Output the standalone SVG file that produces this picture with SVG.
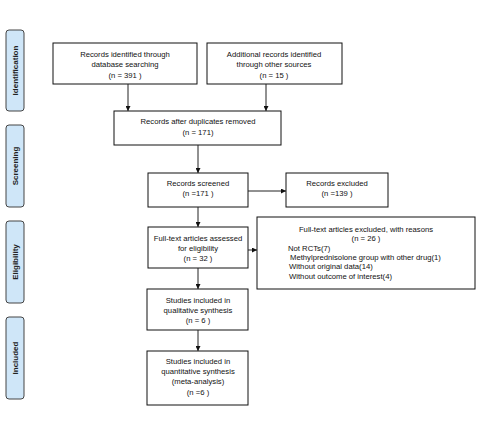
<svg xmlns="http://www.w3.org/2000/svg" width="498" height="428" viewBox="0 0 498 428">
<style>
.box{fill:#fff;stroke:#111;stroke-width:1}
.tab{fill:#cfe6f8;stroke:#444;stroke-width:1}
.t{font-family:"Liberation Sans",Arial,sans-serif;font-size:7.7px;fill:#111;text-anchor:middle}
.l{font-family:"Liberation Sans",Arial,sans-serif;font-size:7.7px;fill:#111;text-anchor:start}
.tt{font-family:"Liberation Sans",Arial,sans-serif;font-size:8px;font-weight:bold;fill:#222;text-anchor:middle}
.c{stroke:#222;stroke-width:1;fill:none;marker-end:url(#ah)}
</style>
<defs>
<marker id="ah" viewBox="0 0 6 6" refX="6" refY="3" markerWidth="5" markerHeight="5" orient="auto" markerUnits="userSpaceOnUse">
<path d="M0,0 L6,3 L0,6 z" fill="#111"/>
</marker>
</defs>
<rect width="498" height="428" fill="#fff"/>
<g id="tab-identification"><rect class="tab" x="6" y="30" width="18" height="81" rx="3"/><text class="tt" transform="translate(17.8,70.5) rotate(-90)">Identification</text></g>
<g id="tab-screening"><rect class="tab" x="6" y="125" width="18" height="82" rx="3"/><text class="tt" transform="translate(17.8,166) rotate(-90)">Screening</text></g>
<g id="tab-eligibility"><rect class="tab" x="6" y="221" width="18" height="82" rx="3"/><text class="tt" transform="translate(17.8,262) rotate(-90)">Eligibility</text></g>
<g id="tab-included"><rect class="tab" x="6" y="317" width="18" height="82" rx="3"/><text class="tt" transform="translate(17.8,358) rotate(-90)">Included</text></g>

<g id="n-db"><rect class="box" x="53" y="43" width="144" height="41"/>
<text class="t" x="125" y="57">Records identified through</text>
<text class="t" x="125" y="67">database searching</text>
<text class="t" x="125" y="78">(n = 391  )</text></g>
<g id="n-other"><rect class="box" x="207" y="43" width="135" height="41"/>
<text class="t" x="274" y="57">Additional records identified</text>
<text class="t" x="274" y="67">through other sources</text>
<text class="t" x="274" y="78">(n = 15  )</text></g>
<g id="n-dup"><rect class="box" x="114" y="111" width="167" height="34"/>
<text class="t" x="198" y="124">Records after duplicates removed</text>
<text class="t" x="198" y="135">(n = 171)</text></g>
<g id="n-screened"><rect class="box" x="148" y="173" width="100" height="34"/>
<text class="t" x="198" y="186">Records screened</text>
<text class="t" x="198" y="196">(n =171   )</text></g>
<g id="n-excluded"><rect class="box" x="286" y="173" width="102" height="34"/>
<text class="t" x="337" y="186">Records excluded</text>
<text class="t" x="337" y="196">(n =139   )</text></g>
<g id="n-fulltext"><rect class="box" x="148" y="227" width="100" height="41"/>
<text class="t" x="198" y="241">Full-text articles assessed</text>
<text class="t" x="198" y="251">for eligibility</text>
<text class="t" x="198" y="261">(n = 32  )</text></g>
<g id="n-ftexcluded"><rect class="box" x="257" y="217" width="218" height="72"/>
<text class="t" x="366" y="232">Full-text articles excluded, with reasons</text>
<text class="t" x="366" y="241">(n = 26 )</text>
<text class="l" x="288" y="251">Not RCTs(7)</text>
<text class="l" x="290" y="260">Methylprednisolone group with other drug(1)</text>
<text class="l" x="289" y="269">Without original data(14)</text>
<text class="l" x="289" y="279">Without outcome of interest(4)</text></g>
<g id="n-qual"><rect class="box" x="147" y="289" width="101" height="41"/>
<text class="t" x="198" y="303">Studies included in</text>
<text class="t" x="198" y="313">qualitative synthesis</text>
<text class="t" x="198" y="323">(n =  6 )</text></g>
<g id="n-quant"><rect class="box" x="147" y="351" width="101" height="54"/>
<text class="t" x="198" y="364">Studies included in</text>
<text class="t" x="198" y="374">quantitative synthesis</text>
<text class="t" x="198" y="384">(meta-analysis)</text>
<text class="t" x="198" y="395">(n =6  )</text></g>

<g id="connectors">
<line class="c" x1="128" y1="84" x2="128" y2="111"/>
<line class="c" x1="266" y1="84" x2="266" y2="111"/>
<line class="c" x1="198" y1="145" x2="198" y2="173"/>
<line class="c" x1="248" y1="191" x2="286" y2="191"/>
<line class="c" x1="198" y1="207" x2="198" y2="227"/>
<line class="c" x1="248" y1="250" x2="257" y2="250"/>
<line class="c" x1="198" y1="268" x2="198" y2="289"/>
<line class="c" x1="198" y1="330" x2="198" y2="351"/>
</g>
</svg>
